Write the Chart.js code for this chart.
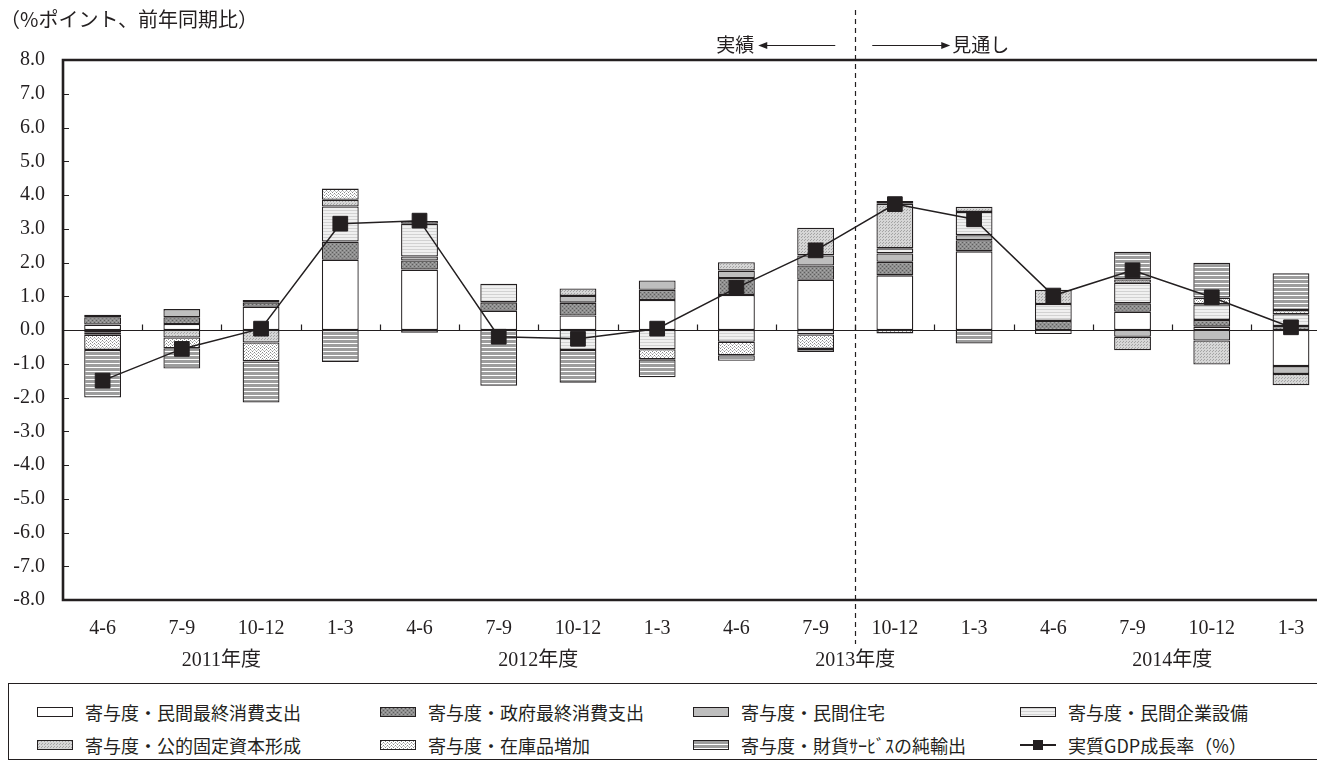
<!DOCTYPE html>
<html><head><meta charset="utf-8">
<script src="https://cdn.jsdelivr.net/npm/chart.js@4.4.1/dist/chart.umd.min.js"></script>
<style>
html,body{margin:0;padding:0;background:#fff;}
#wrap{position:relative;width:1317px;height:760px;overflow:hidden;background:#fff;}
#cv{position:absolute;left:0;top:0;}
#legend{position:absolute;left:8px;top:683px;width:1340px;height:77px;border:1.5px solid #231f20;box-sizing:border-box;font-family:'Noto Sans CJK JP',sans-serif;font-size:18px;color:#231f20;}
.item{position:absolute;display:flex;align-items:center;height:24px;white-space:nowrap;}
.sw{width:36px;height:10px;border:1.3px solid #231f20;box-sizing:border-box;margin-right:12px;flex:none;}
.lsw{position:relative;width:36px;height:12px;margin-right:12px;flex:none;}
.lsw .ln{position:absolute;left:0;top:5px;width:36px;height:1.5px;background:#231f20;}
.lsw .sq{position:absolute;left:13px;top:1px;width:10px;height:10px;background:#231f20;}
</style></head>
<body><div id="wrap"><canvas id="cv" width="1342" height="683"></canvas><div id="legend"></div></div>
<script>
// ---- data ----
const categories = ['4-6','7-9','10-12','1-3','4-6','7-9','10-12','1-3','4-6','7-9','10-12','1-3','4-6','7-9','10-12','1-3'];
const fiscalYears = ['2011年度','2012年度','2013年度','2014年度'];
const yTicks = [-8,-7,-6,-5,-4,-3,-2,-1,0,1,2,3,4,5,6,7,8];
const seriesNames = ['寄与度・民間最終消費支出','寄与度・政府最終消費支出','寄与度・民間住宅','寄与度・民間企業設備','寄与度・公的固定資本形成','寄与度・在庫品増加','寄与度・財貨ｻｰﾋﾞｽの純輸出','実質GDP成長率（%）'];
const privateConsumption = [0.16,0.18,0.69,2.08,1.79,0.57,0.43,0.89,1.04,1.49,1.62,2.33,-0.12,0.54,0.10,-1.07];
const govConsumption     = [0.22,0.20,0.13,0.54,0.27,0.25,0.38,0.30,0.50,0.42,0.40,0.33,0.27,0.25,0.20,0.12];
const housing            = [0.07,0.24,0.07,null,0.12,null,0.20,0.28,0.22,0.30,0.25,0.15,null,-0.20,-0.31,-0.23];
const businessInvest     = [-0.07,null,null,1.04,0.97,0.55,-0.59,-0.57,-0.35,-0.13,0.15,0.69,0.50,0.61,0.46,0.35];
const publicInvest       = [-0.07,-0.22,-0.37,0.20,0.08,null,0.22,null,0.25,0.82,1.32,0.15,0.42,-0.40,-0.71,-0.34];
const inventory          = [-0.45,-0.32,-0.56,0.33,null,null,null,-0.30,-0.40,-0.43,-0.10,null,null,0.10,0.20,0.12];
const netExports         = [-1.41,-0.60,-1.22,-0.95,-0.08,-1.65,-0.97,-0.53,-0.16,-0.09,0.08,-0.40,null,0.82,1.03,1.09];
const realGDP            = [-1.50,-0.56,0.04,3.15,3.24,-0.20,-0.26,0.04,1.25,2.36,3.73,3.28,1.02,1.77,0.97,0.08];

// ---- styles ----
const INK = '#231f20';
function tile(w,h,draw){const c=document.createElement('canvas');c.width=w;c.height=h;const g=c.getContext('2d');draw(g);return c;}
const tiles = {
  white: tile(2,2,g=>{g.fillStyle='#ffffff';g.fillRect(0,0,2,2);}),
  gov: tile(4,4,g=>{g.fillStyle='#8e8e8e';g.fillRect(0,0,4,4);g.fillStyle='#5e5e5e';g.fillRect(0,0,1,1);g.fillRect(2,2,1,1);g.fillStyle='#a8a8a8';g.fillRect(2,0,1,1);g.fillRect(0,2,1,1);}),
  housing: tile(2,2,g=>{g.fillStyle='#bebebe';g.fillRect(0,0,2,2);}),
  capex: tile(2,3,g=>{g.fillStyle='#f0f0f0';g.fillRect(0,0,2,3);g.fillStyle='#d2d2d2';g.fillRect(0,0,2,1);}),
  pub: tile(3,3,g=>{g.fillStyle='#d6d6d6';g.fillRect(0,0,3,3);g.fillStyle='#a4a4a4';g.fillRect(0,0,1,1);g.fillRect(1,2,1,1);}),
  inv: tile(4,3,g=>{g.fillStyle='#ffffff';g.fillRect(0,0,4,3);g.fillStyle='#8a8a8a';g.fillRect(0,0,1,1);g.fillRect(2,1,1,1);g.fillStyle='#c4c4c4';g.fillRect(1,2,1,1);g.fillRect(3,2,1,1);}),
  net: tile(2,4,g=>{g.fillStyle='#9d9d9d';g.fillRect(0,0,2,4);g.fillStyle='#ffffff';g.fillRect(0,3,2,1);})
};
const ctx = document.getElementById('cv').getContext('2d');
const pat = k => ctx.createPattern(tiles[k],'repeat');
const fills = ['white','gov','housing','capex','pub','inv','net'];
const barSeries = [privateConsumption,govConsumption,housing,businessInvest,publicInvest,inventory,netExports];

const datasets = barSeries.map((d,i)=>({
  type:'bar', label:seriesNames[i], data:d, backgroundColor:pat(fills[i]),
  borderColor:INK, borderWidth:1.3, borderSkipped:false, stack:'c', order:1,
  barPercentage:0.465, categoryPercentage:1
}));
datasets.push({
  type:'line', label:seriesNames[7], data:realGDP, borderColor:INK, borderWidth:1.5,
  pointStyle:'rect', pointRadius:10.4, pointBackgroundColor:INK, pointBorderColor:INK,
  pointBorderWidth:1, tension:0, stack:'gdp', order:0, fill:false
});

const deco = {
  id:'deco',
  beforeDatasetsDraw(chart){
    const {ctx,chartArea:a,scales:{x,y}} = chart;
    const y0 = Math.round(y.getPixelForValue(0))+0.5;
    ctx.save();
    ctx.strokeStyle=INK; ctx.lineWidth=1.2;
    ctx.beginPath(); ctx.moveTo(a.left,y0); ctx.lineTo(a.right,y0);
    for(let i=0;i<categories.length-1;i++){const px=Math.round(x.getPixelForValue(i+0.5))+0.5;ctx.moveTo(px,y0);ctx.lineTo(px,y0-6);}
    ctx.stroke();
    ctx.restore();
  },
  afterDatasetsDraw(chart){
    const {ctx,chartArea:a,scales:{y}} = chart;
    ctx.save();
    ctx.strokeStyle=INK; ctx.lineWidth=1.2;
    ctx.beginPath();
    yTicks.forEach(v=>{const py=Math.round(y.getPixelForValue(v))+0.5;ctx.moveTo(a.left,py);ctx.lineTo(a.left+6,py);});
    ctx.stroke();
    ctx.lineWidth=2.6;
    ctx.beginPath();
    ctx.moveTo(a.right+20,a.top); ctx.lineTo(a.left,a.top); ctx.lineTo(a.left,a.bottom); ctx.lineTo(a.right+20,a.bottom);
    ctx.stroke();
    ctx.restore();
  },
  afterDraw(chart){
    const {ctx,scales:{x}} = chart;
    const xd = x.getPixelForValue(9.5);
    ctx.save();
    ctx.strokeStyle=INK; ctx.fillStyle=INK; ctx.lineWidth=1.2;
    ctx.setLineDash([5,4]);
    ctx.beginPath(); ctx.moveTo(Math.round(xd)+0.5,10); ctx.lineTo(Math.round(xd)+0.5,644); ctx.stroke();
    ctx.setLineDash([]);
    const ay = 45.5;
    ctx.beginPath(); ctx.moveTo(xd-20,ay); ctx.lineTo(xd-90,ay); ctx.moveTo(xd+17,ay); ctx.lineTo(xd+88,ay); ctx.stroke();
    ctx.beginPath(); ctx.moveTo(xd-97,ay); ctx.lineTo(xd-88,ay-3.5); ctx.lineTo(xd-88,ay+3.5); ctx.closePath(); ctx.fill();
    ctx.beginPath(); ctx.moveTo(xd+95,ay); ctx.lineTo(xd+86,ay-3.5); ctx.lineTo(xd+86,ay+3.5); ctx.closePath(); ctx.fill();
    ctx.font = "19px 'Noto Sans CJK JP', sans-serif";
    ctx.textBaseline='middle';
    ctx.textAlign='right'; ctx.fillText('実績', xd-101, ay-1);
    ctx.textAlign='left'; ctx.fillText('見通し', xd+97, ay-1);
    ctx.font = "20px 'Liberation Serif', 'Noto Sans CJK JP', serif";
    ctx.textAlign='center';
    fiscalYears.forEach((t,i)=>ctx.fillText(t, x.getPixelForValue(i*4+1.5), 661));
    ctx.restore();
  }
};

new Chart(ctx,{
  data:{labels:categories,datasets},
  options:{
    responsive:false, animation:false, devicePixelRatio:1,
    layout:{padding:{left:0,right:0,top:0,bottom:0}},
    plugins:{
      legend:{display:false}, tooltip:{enabled:false},
      title:{display:true,text:'（%ポイント、前年同期比）',align:'start',color:INK,
        font:{family:"'Noto Sans CJK JP', sans-serif",size:20,weight:'normal',lineHeight:1.2},
        padding:{top:7,bottom:29}}
    },
    scales:{
      x:{stacked:true, offset:true, grid:{display:false,drawTicks:false}, border:{display:false},
        ticks:{color:INK,padding:17,maxRotation:0,autoSkip:false,font:{family:"'Liberation Serif', serif",size:20}},
        afterFit(s){s.height=83;}},
      y:{stacked:true, min:-8, max:8, grid:{display:false,drawTicks:false}, border:{display:false},
        ticks:{stepSize:1,color:INK,padding:18,font:{family:"'Liberation Serif', serif",size:20},callback:v=>Number(v).toFixed(1)},
        afterFit(s){s.width=63;}}
    }
  },
  plugins:[deco]
});

// ---- legend (HTML) ----
const lg = document.getElementById('legend');
const cols = [28,371,684,1011], rows = [16,49];
const order = [[0,0,0],[1,1,0],[2,2,0],[3,3,0],[4,0,1],[5,1,1],[6,2,1],[7,3,1]];
order.forEach(([si,c,r])=>{
  const it=document.createElement('div'); it.className='item';
  it.style.left=cols[c]+'px'; it.style.top=rows[r]+'px';
  if(si<7){const sw=document.createElement('div');sw.className='sw';sw.style.backgroundImage='url('+tiles[fills[si]].toDataURL()+')';it.appendChild(sw);}
  else{const sw=document.createElement('div');sw.className='lsw';sw.innerHTML='<div class="ln"></div><div class="sq"></div>';it.appendChild(sw);}
  const tx=document.createElement('span'); tx.textContent=seriesNames[si]; it.appendChild(tx);
  lg.appendChild(it);
});
</script>
</body></html>
